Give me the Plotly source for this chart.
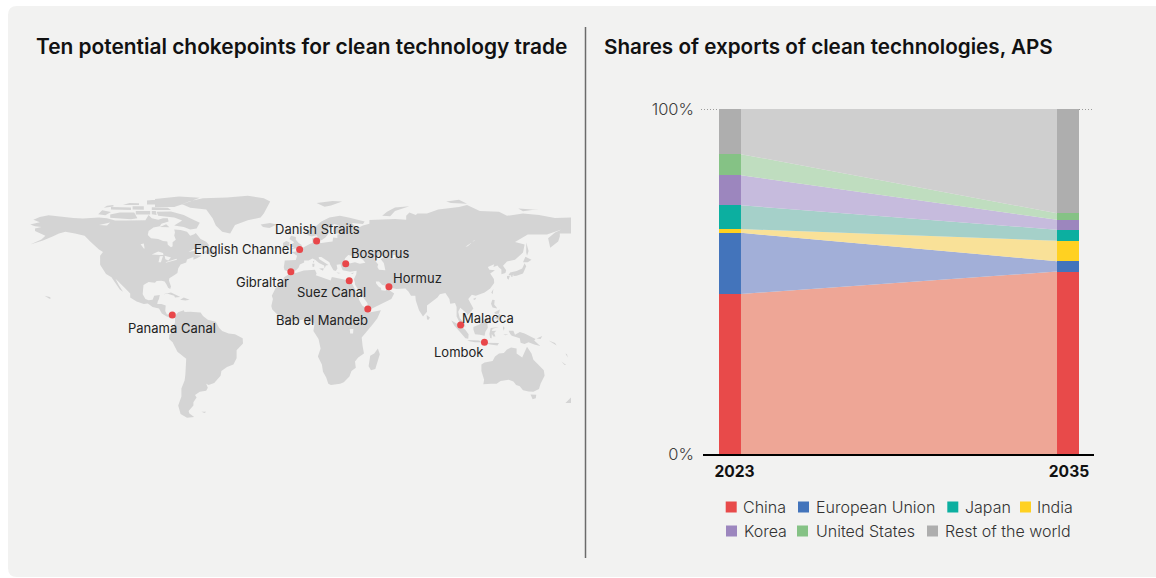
import plotly.graph_objects as go

# ---------- right chart data ----------
YEARS = [2023, 2035]
CHINA = [46.4, 52.9]
EU = [17.7, 3.0]
INDIA = [1.1, 5.9]
JAPAN = [6.9, 3.2]
KOREA = [8.7, 2.9]
US = [6.1, 1.9]
REST = [13.1, 30.2]
Y_TICKS = [0, 100]
Y_TICK_TEXT = ["0%", "100%"]

# ---------- chokepoints ----------
POINT_NAMES = ["Panama Canal", "Gibraltar", "English Channel", "Danish Straits", "Bosporus",
               "Suez Canal", "Hormuz", "Bab el Mandeb", "Malacca", "Lombok"]
POINT_LON = [-79.2, -5.1, 0.4, 11.0, 29.2, 31.4, 56.2, 43.0, 101.0, 115.9]
POINT_LAT = [9.0, 36.0, 50.0, 55.3, 41.0, 30.4, 26.7, 12.7, 2.7, -8.1]

# ---------- land outlines (lon, lat) ----------
NORTH_AMERICA = [(-168,65.6),(-164,66.5),(-162,67),(-166,68.5),(-162,70.2),(-156.5,71.3),(-150,70.5),(-141,69.7),(-135,69.3),(-128,70),(-125,70),(-120,69.5),(-115,68),(-108,68),(-100,68),(-96,68.2),(-94,71.5),(-92,69.5),(-88,68.5),(-85,69.5),(-82,69.5),(-81.5,67.5),(-86,66),(-87,64.5),(-91,63.7),(-94,61.5),(-94.5,59),(-92.5,57),(-88,56.5),(-85,55.3),(-82.3,55),(-82,52.9),(-80,51.3),(-79,52),(-79,54.5),(-77,56),(-78,58.7),(-77.5,60.5),(-78,62.4),(-74,62.2),(-70,61),(-68,58.5),(-65.5,59.5),(-64.5,60.3),(-61.5,56.5),(-58,54.8),(-56,52.5),(-60,50.2),(-66,50.2),(-69,48.3),(-65,49.2),(-64.3,48),(-65,46.5),(-61,46),(-63.5,44.6),(-66,43.6),(-66,45.2),(-67,44.8),(-70,43.7),(-70.5,41.8),(-74,40.6),(-75.5,38),(-76,35.2),(-78,33.9),(-81,32),(-81.3,30.5),(-80,26.8),(-80.5,25.2),(-81.8,26),(-82.8,28),(-84,30),(-86,30.4),(-89,30.3),(-90,29.2),(-94,29.6),(-97.2,27.8),(-97.7,24),(-97.7,22),(-96,19),(-94,18.2),(-91.5,18.6),(-90.5,21),(-87,21.5),(-87.5,19),(-88.3,17.5),(-88.6,15.8),(-86,15.9),(-83.3,15),(-83.6,11.5),(-82.5,9.3),(-79.8,9.5),(-77.5,8.6),(-77.9,7.2),(-79,8.7),(-80.3,7.3),(-83,8.2),(-85.7,10),(-87.5,13),(-91.5,14),(-94.5,16.2),(-97,15.9),(-101.5,17.5),(-105.5,20),(-105.5,22.5),(-109,26),(-112.5,29.5),(-114.7,31.7),(-112.5,27.5),(-110,23.5),(-112,25),(-115,29),(-117.2,32.6),(-120.6,34.6),(-122.5,37.5),(-124.3,40.4),(-124.3,46),(-122.5,48.3),(-125,50),(-128,52.5),(-130.5,55),(-134,58.5),(-140,60),(-146,61),(-150,60),(-154,58),(-160,55.5),(-168,53),(-161,56.2),(-158.5,58.5),(-162,60),(-165,61.5),(-165,63),(-161,64),(-165,64.5)]
SOUTH_AMERICA = [(-77.5,8.6),(-75.5,10.7),(-72,12),(-71.5,10.8),(-68,11),(-64,10.5),(-61.5,10.5),(-60,8.3),(-57,6),(-52,4.8),(-50,1),(-48,-1),(-44,-2.6),(-40,-3),(-35.2,-5.5),(-35,-8.8),(-39,-13),(-39,-18),(-41,-22),(-45,-23.5),(-48.5,-26),(-49,-29),(-53,-33.5),(-56.5,-34.8),(-58,-34),(-57,-36.5),(-58,-38.3),(-62,-39),(-65,-41),(-64,-42.5),(-66,-45.5),(-66,-47.5),(-69,-51),(-68.5,-52.5),(-65.5,-54.8),(-70,-55.2),(-74,-52.8),(-75.5,-47.5),(-73.5,-42),(-73.5,-37),(-71.5,-32),(-71,-28),(-70.2,-20),(-70.5,-18.4),(-76,-14),(-79,-8),(-81.2,-6),(-81,-3),(-80,-2.5),(-80.5,0),(-78.5,2.5),(-77.5,4),(-77.5,7)]
AFRICA = [(-5.8,35.8),(-2,35.2),(3,36.8),(10,37.3),(11,35),(10.5,33.8),(15,32.3),(19.8,30.5),(20.5,32.7),(25,31.7),(29,31),(32.3,31.2),(32.5,29.8),(34,27),(36,23),(37.3,20.5),(37.5,18.5),(39.5,15),(43.2,12.4),(44,10.5),(51.2,11.9),(49,7),(46,3),(41.5,-2),(39.2,-5),(39.7,-10),(40.6,-15),(37,-17.5),(35,-20),(35.5,-24),(32.8,-26),(31.5,-29.5),(28,-33),(25.7,-34),(20,-34.8),(18.3,-34),(17,-30),(15,-26.5),(14.3,-22),(11.8,-17),(13.5,-12),(12.2,-6),(9,-1),(9.7,3.5),(8.5,4.5),(5.5,4.5),(4,6.3),(1,5.8),(-4,5.2),(-7.5,4.4),(-11,6.8),(-13.5,9.5),(-16.7,12.5),(-17.3,14.7),(-16.3,19),(-17,21),(-14.5,26),(-10,29.5),(-9.5,32.5),(-6.5,34.5)]
EURASIA = [(-5.6,36),(-9,37),(-9.5,38.7),(-8.9,43),(-2,43.4),(-1.2,46),(-4.7,48.3),(-1.5,48.7),(1.5,50.5),(4,52),(7,53.5),(8.5,54),(8.2,57),(10.5,57.5),(10.5,55.3),(12,54.3),(14,54),(18.5,54.7),(21,55),(21.3,57.5),(24,57.2),(24,59.3),(30,60),(23,60),(21.5,61),(21.5,63),(25,65),(22,65.8),(17.5,62.5),(18.5,60),(16.5,57.5),(14.5,56),(13,55.4),(11,58.8),(8,58),(5.3,59),(5,62),(10,64),(14,67.5),(19,70),(25.5,71),(31,70),(41,67.5),(40,65.8),(33,66.5),(35,64.3),(38,64),(40,65),(44,66),(44,68.3),(54,68.7),(60,69),(67,68.5),(67,71),(69,73),(73,71.5),(74,72.5),(80,72.5),(87,75),(100,76.5),(105,77.7),(113,74),(125,73.5),(130,71),(140,72.5),(150,71.5),(160,69.7),(170,70),(178,69),(188,66),(180,65),(177,62.5),(170,60),(163,60),(163,58),(162,55),(157,51),(155.7,57),(160,60.5),(164,62.5),(155,59.3),(143,59.3),(135,54.7),(141,53),(140,48),(135,43.5),(130,42.5),(127.5,39.8),(129.5,37),(129,35.2),(126.5,34.5),(126.5,37.5),(125,38.7),(124,40),(121.5,39),(122,40.7),(118,39),(119,37.3),(122.5,37),(119.5,35),(121.8,31.5),(122,29),(119.5,25.5),(116,23),(110.5,21),(108,21.6),(105.8,19),(109,13),(107,10.5),(105,8.7),(105,10),(102,12.5),(100.8,13.5),(99.5,11),(100.5,7),(103.4,4),(104,1.5),(101,3),(98.5,8),(98.5,14),(97.5,16.5),(94.5,16),(94,19),(91.5,22.7),(88,22),(86.5,20),(82,16.5),(80,15),(80,11),(77.5,8),(75,12),(73,18),(72.7,21),(70,21),(68.5,23.5),(66.5,25.5),(61,25.2),(57,26),(56.5,27),(52,27.7),(50,30),(48,30),(48.3,28.5),(50,26.5),(51.2,26),(51.5,24.5),(54,24.2),(56.2,26),(56.5,24.5),(59.5,22.5),(57.7,19),(52,16),(45,12.8),(43.2,13),(42.7,16.5),(39,21.5),(37,25),(35,28),(34.9,29.5),(34.3,31.3),(35.8,34.5),(36,36.7),(32,36.1),(30,36.3),(27.3,37),(26.3,39.5),(26,40.7),(23.5,40.4),(24,38),(23,36.5),(21.5,37),(19.5,40.5),(19,42),(14,45.3),(12.3,45.3),(12.5,44),(16,41.8),(18.4,40.2),(16.8,40),(16,38),(15.7,40),(12.5,41.5),(10.3,43.3),(8.5,44.3),(6,43),(3.2,43),(3.2,41.8),(0.5,40.5),(-0.3,38.6),(-2,36.8)]
GREENLAND = [(-73,78.2),(-68,80.2),(-60,82),(-45,82.5),(-32,83.5),(-22,82),(-18,80),(-20,76),(-22,72.5),(-24,70),(-32,68.2),(-40,65.2),(-43,60),(-48,61),(-52,65),(-54,69.5),(-58,75),(-68,76)]
BAFFIN = [(-80,73.7),(-72,71.5),(-68,69.5),(-62,66.7),(-64,63),(-68,62.5),(-72,64),(-78,65),(-73,68),(-78,70),(-88,71),(-89,73.5)]
VICTORIA_I = [(-118,69.8),(-105,68.8),(-101,69.5),(-103,73),(-112,73),(-118,71.8)]
BANKS_I = [(-125.5,72),(-121,71.3),(-117.5,73.3),(-123,74.5)]
ELLESMERE = [(-90,76.5),(-78,76.5),(-72,78.5),(-62,82.3),(-75,83),(-90,81.5)]
DEVON_I = [(-92,74.7),(-80,74.6),(-82,76),(-92,76.3)]
MELVILLE_I = [(-117.5,75),(-105,74.6),(-105,76.2),(-117.5,76.5)]
BATHURST_I = [(-104,75),(-97,74.8),(-97,77),(-104,77)]
PRINCE_PATRICK_I = [(-122,76),(-116,76.8),(-116,77.8),(-120,77.3)]
ELLEF_I = [(-110,77.8),(-100,77.7),(-100,78.8),(-106,79)]
PRINCE_WALES_I = [(-102,71.8),(-93,71.8),(-93,74),(-102,74)]
SOMERSET_I = [(-92,72),(-89,71.5),(-89.5,74),(-92,74)]
AXEL_HEIBERG = [(-95,78),(-87,78),(-90,81),(-95,80.5)]
SOUTHAMPTON_I = [(-87,64),(-81,63.8),(-83,65.7)]
NEWFOUNDLAND = [(-59.5,47.7),(-55.5,46.8),(-52.8,47),(-53.5,49.3),(-55.5,51.5),(-57.5,50)]
VANCOUVER_I = [(-128,50.7),(-123.5,48.4),(-125,49)]
CUBA = [(-85,22),(-80,23),(-74.2,20.2),(-77.5,19.9),(-78,21),(-82,22.3)]
HISPANIOLA = [(-74.3,18.5),(-72,19.9),(-68.4,18.6),(-71,18)]
JAMAICA = [(-78.3,18.3),(-76.3,18.1),(-77.3,17.8)]
HAWAII = [(-159,21),(-155.8,20.2),(-155,19.5),(-156,19.2)]
ICELAND = [(-24,65.5),(-18,66.5),(-14,65.5),(-18.5,63.4),(-22.5,64)]
BRITAIN = [(-5.5,50),(1.4,51.2),(1.7,52.7),(-0.2,54),(-2,56),(-2,57.7),(-5,58.6),(-6,56.5),(-3,54.5),(-4.5,53.3),(-5,51.7),(-3,51.3)]
IRELAND = [(-10,52),(-6,52.2),(-6,54.5),(-8,55.2),(-10,54)]
SVALBARD = [(11,79),(21,80.3),(27,80),(20,77.5),(16,76.7)]
NOVAYA_ZEMLYA = [(52,71),(57,70.7),(60,74),(69,77),(60,76.2),(55,73.5)]
SEVERNAYA = [(95,79),(105,78.5),(100,81),(92,80)]
NEW_SIBERIAN = [(137,75.5),(146,75),(150,75.3),(140,73.8)]
SAKHALIN = [(142,54.3),(143.5,49),(142.5,46),(142,48)]
HONSHU = [(130.9,34),(136,33.5),(140,35),(142,39.5),(141,41.4),(139.5,38),(136,36.5),(132,35.5)]
HOKKAIDO = [(140,42),(141.5,45.4),(145.3,43.5),(143,42)]
KYUSHU = [(130,33.3),(131.8,33.5),(131,31),(130,32)]
SHIKOKU = [(132.3,33.8),(134.5,34.2),(134,33.3),(132.8,32.8)]
TAIWAN = [(120.2,23),(121.5,25.2),(121,22)]
HAINAN = [(108.7,19),(110.8,20),(110,18.3)]
LUZON = [(120,16),(120.8,18.5),(122.3,18.3),(122,15.5),(124,13),(121,13.7)]
MINDANAO = [(122,7),(125.5,9.8),(126.5,7),(125,5.8)]
VISAYAS = [(122,10.5),(125.5,12.5),(125,10),(123,9.5)]
BORNEO = [(109,1.5),(111.3,2.5),(113,3.2),(116.7,7),(119,5),(117.7,3.5),(118,1),(116.5,-1.5),(116,-4),(113,-3.3),(110,-3),(109,0)]
SUMATRA = [(95.2,5.6),(98,4),(103.8,0),(106,-3),(105.8,-5.8),(104,-5.5),(100.5,-1.5),(97,2.5)]
JAVA = [(105.2,-6.7),(108.5,-6.6),(112.5,-6.9),(114.5,-8),(110,-8),(106.5,-7.4)]
LESSER_SUNDA = [(115,-8.3),(119,-8.3),(123,-8.3),(125,-8.5),(124,-10),(119.5,-9.5)]
SULAWESI = [(119.8,0.8),(125,1.5),(121,0.4),(120.5,-1),(123.3,-0.9),(122,-2.2),(122.8,-4.5),(121.5,-4.5),(120.5,-2.9),(120.4,-5.5),(119.5,-5.3),(119,-2.8)]
HALMAHERA = [(127.5,2),(128.5,1),(128,-0.8),(127.5,0.5)]
SERAM = [(127.8,-3),(130.8,-3.2),(129,-3.6)]
NEW_GUINEA = [(131,-0.8),(134,-0.8),(135,-3.3),(138,-1.7),(141,-2.6),(145,-4.5),(147.8,-6),(147,-7),(150.8,-10.3),(147,-9.5),(143.5,-8),(141,-9.1),(138.5,-8.3),(138,-5.5),(133,-4),(132,-2.8)]
NEW_BRITAIN = [(148.5,-5.7),(152,-4.2),(151,-6)]
SOLOMON = [(156,-7),(160,-8.5),(161,-10),(158,-8.5)]
VANUATU = [(166.5,-15),(167.5,-15.5),(168,-17.5),(167.3,-16.5)]
NEW_CALEDONIA = [(164,-20),(167,-22.3),(166,-22.3)]
AUSTRALIA = [(114,-22),(116,-20.7),(121,-19.7),(122.5,-17),(125,-15),(128,-14.8),(130,-12.5),(132.5,-11.3),(136,-12),(136,-15),(139.5,-17.5),(141.5,-13),(142.5,-10.8),(145.3,-15),(146.5,-19),(149.5,-22),(153,-25.5),(153.5,-29),(151,-34),(150,-37.3),(146.5,-39),(143.5,-38.8),(140,-38),(138,-35.5),(135.7,-34.8),(134,-32.5),(131,-31.5),(126,-32.3),(123.5,-34),(120,-34),(115.2,-34.3),(115.7,-31.5),(114,-26)]
TASMANIA = [(144.7,-40.7),(148.3,-40.9),(148,-43),(146,-43.6)]
NZ_SOUTH = [(166.5,-46),(170.5,-46),(173,-43.5),(174,-41.5),(172,-40.7)]
MADAGASCAR = [(49.3,-12),(50.5,-15.5),(47.7,-24.8),(45,-25.5),(43.5,-23),(44.5,-16.5),(47,-15)]
SRI_LANKA = [(79.8,9),(81.8,7.5),(81,6),(80,6.2)]
SICILY = [(12.5,38),(15.5,38.2),(15,36.7)]
SARDINIA = [(8.3,41),(9.7,41),(9.5,39.1),(8.5,39)]
CORSICA = [(8.7,42.5),(9.5,43),(9.3,41.5)]
CRETE = [(23.5,35.5),(26.2,35.2),(24.5,34.9)]
CYPRUS = [(32.3,35),(34.5,35.6),(33.5,34.6)]
FALKLANDS = [(-61,-51.5),(-58,-51.5),(-59,-52.3)]

LAND = [NORTH_AMERICA, SOUTH_AMERICA, AFRICA, EURASIA, GREENLAND, BAFFIN, VICTORIA_I, BANKS_I, ELLESMERE,
        DEVON_I, MELVILLE_I, BATHURST_I, PRINCE_PATRICK_I, ELLEF_I, PRINCE_WALES_I, SOMERSET_I, AXEL_HEIBERG,
        SOUTHAMPTON_I, NEWFOUNDLAND, VANCOUVER_I, CUBA,
        HISPANIOLA, JAMAICA, HAWAII, ICELAND, BRITAIN, IRELAND, SVALBARD, NOVAYA_ZEMLYA, SEVERNAYA,
        NEW_SIBERIAN, SAKHALIN, HONSHU, HOKKAIDO, KYUSHU, SHIKOKU, TAIWAN, HAINAN, LUZON, MINDANAO, VISAYAS,
        BORNEO, SUMATRA, JAVA, LESSER_SUNDA, SULAWESI, HALMAHERA, SERAM, NEW_GUINEA, NEW_BRITAIN, SOLOMON,
        VANUATU, NEW_CALEDONIA, AUSTRALIA, TASMANIA, NZ_SOUTH, MADAGASCAR, SRI_LANKA, SICILY, SARDINIA, CORSICA,
        CRETE, CYPRUS, FALKLANDS]

BLACK_SEA = [(28,41.5),(31.5,41.2),(35,42),(38,41),(41.5,41.6),(40,43.5),(37.5,45),(38,47),(35,46),(36.5,45.2),(33.5,44.5),(33,46),(30.8,46.5),(28.8,44.5)]
CASPIAN = [(47,45),(51,47),(53,45),(51,44),(53,41.5),(54,37),(50,37.3),(49,39),(49.5,40.5),(47.5,43)]
ARAL = [(58.5,46.5),(61,46.5),(60,44),(58.5,44)]
BAIKAL = [(104,51.6),(110,55.7),(109.5,55.7),(105.5,52)]
SUPERIOR = [(-92,46.8),(-88,48.7),(-85,47.8),(-84.7,46.5),(-87,46.5)]
MICHIGAN = [(-87.8,42),(-87,45.7),(-85,45.8),(-86.3,42)]
HURON = [(-84,46),(-80,45),(-81.7,43),(-83.5,43.8)]
ERIE_ONTARIO = [(-83.3,41.6),(-79,42.8),(-76.3,43.5),(-76.5,44.1),(-79.7,43.3),(-83,42.2)]
WINNIPEG = [(-99,53.2),(-97,53.7),(-96.5,50.5),(-97,50.5)]
GREAT_SLAVE = [(-117,61),(-109,62.8),(-112,62.5)]
GREAT_BEAR = [(-125,65.2),(-118,66.8),(-120,65)]
VICTORIA_L = [(31.7,0.3),(34,0.3),(33.8,-2.5),(32,-2.5)]
LAKES = [BLACK_SEA, CASPIAN, ARAL, BAIKAL, SUPERIOR, MICHIGAN, HURON, ERIE_ONTARIO, WINNIPEG, GREAT_SLAVE,
         GREAT_BEAR, VICTORIA_L]

# ---------- styles ----------
FONT = "Inter"
PANEL = "#F2F2F1"
LAND_COLOR = "#D4D4D4"
DOT = "#E8474A"
W, H = 1156, 578
BAR_W = 0.78
SERIES = [
    ("China", CHINA, "#E84A4A", "#EEA696"),
    ("European Union", EU, "#4374BB", "#A2AFD8"),
    ("India", INDIA, "#FFD121", "#F9E198"),
    ("Japan", JAPAN, "#0CAFA0", "#A5D0C9"),
    ("Korea", KOREA, "#9C86BE", "#C6BBDD"),
    ("United States", US, "#85C285", "#BFDDBF"),
    ("Rest of the world", REST, "#AEAEAE", "#CFCFCF"),
]
COLORS = {s[0]: s[2] for s in SERIES}


def rings(polys):
    xs, ys = [], []
    for p in polys:
        xs += [c[0] for c in p] + [p[0][0], None]
        ys += [c[1] for c in p] + [p[0][1], None]
    return xs, ys


fig = go.Figure()
lx, ly = rings(LAND)
fig.add_trace(go.Scatter(x=lx, y=ly, mode="lines", fill="toself", fillcolor=LAND_COLOR,
                         line=dict(width=0, color=LAND_COLOR), hoverinfo="skip", showlegend=False,
                         xaxis="x", yaxis="y"))
wx, wy = rings(LAKES)
fig.add_trace(go.Scatter(x=wx, y=wy, mode="lines", fill="toself", fillcolor=PANEL,
                         line=dict(width=0, color=PANEL), hoverinfo="skip", showlegend=False,
                         xaxis="x", yaxis="y"))
fig.add_trace(go.Scatter(x=POINT_LON, y=POINT_LAT, mode="markers", text=POINT_NAMES, hoverinfo="text",
                         marker=dict(size=7, color=DOT), showlegend=False, xaxis="x", yaxis="y"))

band_x = [YEARS[0] + BAR_W / 2, YEARS[1] - BAR_W / 2]
for name, vals, solid, light in SERIES:
    fig.add_trace(go.Bar(x=YEARS, y=vals, width=BAR_W, name=name, marker=dict(color=solid, line=dict(width=0)),
                         showlegend=False, xaxis="x2", yaxis="y2"))
    fig.add_trace(go.Scatter(x=band_x, y=vals, mode="lines", stackgroup="bands", fillcolor=light,
                             line=dict(width=0), name=name, hoverinfo="skip", showlegend=False,
                             xaxis="x2", yaxis="y2"))


def px_x(v):
    return v / W


def px_y(v):
    return 1 - v / H


r = 9
panel_path = (f"M {px_x(8+r)} {px_y(6)} L {px_x(W)} {px_y(6)} L {px_x(W)} {px_y(577)} L {px_x(8+r)} {px_y(577)} "
              f"Q {px_x(8)} {px_y(577)} {px_x(8)} {px_y(577-r)} L {px_x(8)} {px_y(6+r)} "
              f"Q {px_x(8)} {px_y(6)} {px_x(8+r)} {px_y(6)} Z")
shapes = [dict(type="path", xref="paper", yref="paper", layer="below", fillcolor=PANEL, line=dict(width=0),
               path=panel_path),
          dict(type="line", xref="paper", yref="paper", x0=px_x(585.5), x1=px_x(585.5), y0=px_y(27), y1=px_y(558),
               line=dict(color="#6B6B6B", width=1.5)),
          dict(type="line", xref="paper", yref="y2", x0=px_x(701), x1=px_x(1094), y0=100, y1=100, layer="below",
               line=dict(color="#444444", width=1, dash="1px,2px"))]

annotations = []
for text, x, size in (("Ten potential chokepoints for clean technology trade", 35, 20.9),
                      ("Shares of exports of clean technologies, APS", 603, 20.65)):
    annotations.append(dict(text=text, xref="paper", yref="paper", x=px_x(x), y=px_y(46.5), xanchor="left",
                            yanchor="middle", showarrow=False, borderpad=0,
                            font=dict(family=FONT, size=size, color="#111111", weight=600)))

# label placement relative to each chokepoint dot: anchor, xshift, yshift
LABEL_PLACE = [("center", 0, -13), ("right", -1, -10), ("right", -6, 0), ("center", 0.5, 12), ("left", 4.5, 11),
               ("right", 18, -11), ("left", 3.5, 9), ("right", 1, -11), ("left", 0.5, 7), ("right", -0.5, -10)]
for name, lon, lat, (anc, xs, ys) in zip(POINT_NAMES, POINT_LON, POINT_LAT, LABEL_PLACE):
    annotations.append(dict(text=name, xref="x", yref="y", x=lon, y=lat, xanchor=anc, yanchor="middle",
                            xshift=xs, yshift=ys, showarrow=False, borderpad=0,
                            font=dict(family=FONT, size=13, color="#222222")))

# legend rows: name, swatch left, text left, row centre
LEGEND_PLACE = [("China", 725.7, 742, 507), ("European Union", 798, 814.7, 507), ("Japan", 947.3, 964, 507),
                ("India", 1020, 1036, 507), ("Korea", 726, 743, 531), ("United States", 797, 814.7, 531),
                ("Rest of the world", 927, 944, 531)]
for name, sx, tx, cy in LEGEND_PLACE:
    shapes.append(dict(type="rect", xref="paper", yref="paper", x0=px_x(sx), x1=px_x(sx + 11), y0=px_y(cy - 5.5),
                       y1=px_y(cy + 5.5), fillcolor=COLORS[name], line=dict(width=0)))
    annotations.append(dict(text=name, xref="paper", yref="paper", x=px_x(tx), y=px_y(cy), xanchor="left",
                            yanchor="middle", showarrow=False, borderpad=0,
                            font=dict(family=FONT, size=16, color="#333333", weight=300)))

# year labels sit slightly right of their bar centres in the reference
TICK_NUDGE = [0.16, 0.035]

fig.update_layout(
    width=W, height=H, margin=dict(l=0, r=0, t=0, b=0, autoexpand=False), paper_bgcolor="white",
    plot_bgcolor="rgba(0,0,0,0)",
    barmode="stack", showlegend=False, shapes=shapes, annotations=annotations, hovermode="closest",
    font=dict(family=FONT),
    xaxis=dict(domain=[0, px_x(571)], range=[(0 - 299) / 1.6, (571 - 299) / 1.6], visible=False, fixedrange=True),
    yaxis=dict(domain=[0, 1], range=[(329.4 - 578) / 1.6, 329.4 / 1.6], visible=False, fixedrange=True),
    xaxis2=dict(domain=[px_x(703), px_x(1094)], range=[2023 - 27 / 28.17, 2035 + 26 / 28.17], anchor="y2",
                tickmode="array", tickvals=[y + n for y, n in zip(YEARS, TICK_NUDGE)],
                ticktext=[str(y) for y in YEARS], showgrid=False, zeroline=False,
                showline=True, linecolor="#000000", linewidth=2, ticks="", ticklabelstandoff=2,
                tickfont=dict(family=FONT, size=15.6, color="#111111", weight=700), fixedrange=True),
    yaxis2=dict(domain=[px_y(454), px_y(109)], range=[0, 100], anchor="x2", tickmode="array", tickvals=Y_TICKS,
                ticktext=Y_TICK_TEXT, showgrid=False, zeroline=False,
                showline=False, ticks="", ticklabelstandoff=8,
                tickfont=dict(family=FONT, size=16.5, color="#3C3C3C", weight=300), fixedrange=True),
)

fig.write_html("out.html", config={"displayModeBar": False},
               post_script="document.body.style.margin='0';document.documentElement.style.overflow='hidden';")
